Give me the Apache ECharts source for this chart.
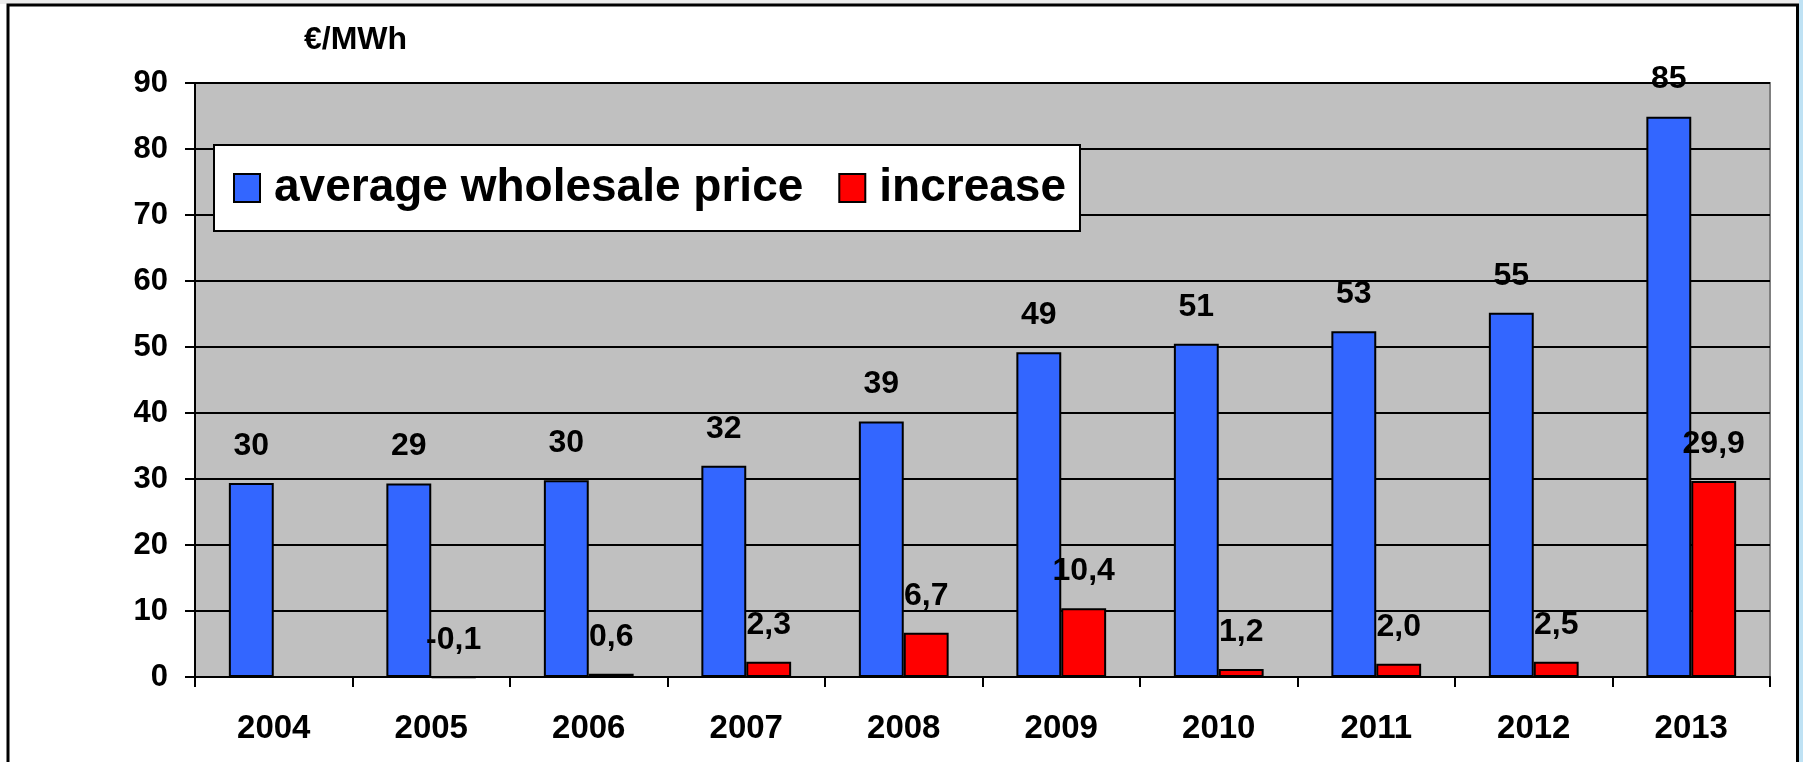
<!DOCTYPE html>
<html>
<head>
<meta charset="utf-8">
<script src="https://cdn.jsdelivr.net/npm/echarts@6/dist/echarts.min.js"></script>
<style>
  html, body { margin: 0; padding: 0; background: #ffffff; }
  #chart { width: 1803px; height: 762px; }
</style>
</head>
<body>
<div id="chart"></div>
<script>
// ---- data ----
const years = ['2004', '2005', '2006', '2007', '2008', '2009', '2010', '2011', '2012', '2013'];
const priceValues = [29.4, 29.3, 29.8, 32.0, 38.7, 49.2, 50.5, 52.4, 55.2, 84.9];
const priceLabels = ['30', '29', '30', '32', '39', '49', '51', '53', '55', '85'];
const increaseValues = [null, -0.1, 0.5, 2.3, 6.7, 10.4, 1.2, 2.0, 2.3, 29.7];
const increaseLabels = ['', '-0,1', '0,6', '2,3', '6,7', '10,4', '1,2', '2,0', '2,5', '29,9'];
const yTicks = [0, 10, 20, 30, 40, 50, 60, 70, 80, 90];
const seriesNames = ['average wholesale price', 'increase'];
const unitLabel = '€/MWh';

const FONT = '"Liberation Sans", Arial, sans-serif';
const chart = echarts.init(document.getElementById('chart'), null, { renderer: 'canvas' });

const labelStyle = {
  show: true,
  position: 'top',
  distance: 21,
  fontFamily: FONT,
  fontWeight: 'bold',
  fontSize: 32,
  lineHeight: 32,
  color: '#000'
};

// negative bars: keep the label above the zero line like the positive ones
const increaseData = increaseValues.map(v =>
  (v !== null && v < 0) ? { value: v, label: { position: 'inside', offset: [0, -37] } } : v
);

chart.setOption({
  animation: false,
  backgroundColor: '#ffffff',
  title: {
    text: unitLabel,
    left: 299,
    top: 19,
    textStyle: { fontFamily: FONT, fontWeight: 'bold', fontSize: 32, color: '#000' }
  },
  graphic: [
    { type: 'rect', left: 1799, top: 0, shape: { width: 4, height: 762 }, style: { fill: '#bfe2f4' }, silent: true },
    { type: 'rect', left: 0, top: 0, shape: { width: 1803, height: 4 }, style: { fill: '#ececec' }, silent: true, z: -1 },
    { type: 'rect', shape: { x: 8, y: 5, width: 1789.5, height: 800 }, style: { fill: 'none', stroke: '#000', lineWidth: 3 }, silent: true, z: 10 }
  ],
  legend: {
    left: 214,
    top: 145,
    padding: [20, 14, 20, 19],
    itemGap: 35,
    itemWidth: 26,
    itemHeight: 28,
    backgroundColor: '#ffffff',
    borderColor: '#000',
    borderWidth: 2,
    selectedMode: false,
    icon: 'rect',
    textStyle: { fontFamily: FONT, fontWeight: 'bold', fontSize: 46, color: '#000', padding: [0, 0, 0, 9] },
    data: seriesNames
  },
  grid: {
    left: 195,
    top: 83,
    right: 33,
    bottom: 85,
    show: true,
    backgroundColor: '#c0c0c0',
    borderColor: '#808080',
    borderWidth: 2
  },
  xAxis: {
    type: 'category',
    data: years,
    boundaryGap: true,
    axisLine: { show: true, lineStyle: { color: '#000', width: 2 } },
    axisTick: { show: true, inside: false, length: 10, alignWithLabel: false, lineStyle: { color: '#000', width: 2 } },
    axisLabel: { margin: 35, fontFamily: FONT, fontWeight: 'bold', fontSize: 33, lineHeight: 33, color: '#000' },
    splitLine: { show: false }
  },
  yAxis: {
    type: 'value',
    min: yTicks[0],
    max: yTicks[yTicks.length - 1],
    interval: 10,
    axisLine: { show: true, lineStyle: { color: '#000', width: 2 } },
    axisTick: { show: true, inside: false, length: 10, lineStyle: { color: '#000', width: 2 } },
    axisLabel: { margin: 27, fontFamily: FONT, fontWeight: 'bold', fontSize: 31, color: '#000' },
    splitLine: { show: true, lineStyle: { color: '#000', width: 2 } }
  },
  series: [
    {
      name: seriesNames[0],
      type: 'bar',
      data: priceValues,
      barGap: '0%',
      barCategoryGap: '43%',
      itemStyle: { color: '#3366ff', borderColor: '#000', borderWidth: 2 },
      label: Object.assign({}, labelStyle, { formatter: p => priceLabels[p.dataIndex] })
    },
    {
      name: seriesNames[1],
      type: 'bar',
      data: increaseData,
      clip: false,
      barGap: '0%',
      barCategoryGap: '43%',
      itemStyle: { color: '#ff0000', borderColor: '#000', borderWidth: 2 },
      label: Object.assign({}, labelStyle, { formatter: p => increaseLabels[p.dataIndex] })
    }
  ]
});
</script>
</body>
</html>
